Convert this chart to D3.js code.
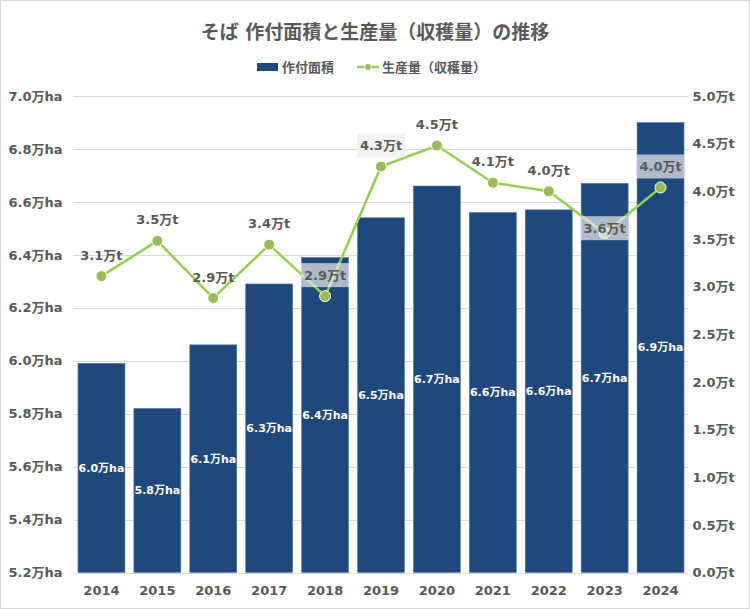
<!DOCTYPE html>
<html>
<head>
    <meta charset="utf-8" />
    <title>そば 作付面積と生産量（収穫量）の推移</title>
    <script src="https://d3js.org/d3.v7.min.js" charset="utf-8"></script>
    <style>
        body { margin: 0; background: #fff; }
        text { font-family: "DejaVu Sans", "Noto Sans CJK JP", sans-serif; }
    </style>
</head>
<body>
    <script>
        // Data (万ha / 万t)
        const years = ["2014", "2015", "2016", "2017", "2018", "2019", "2020", "2021", "2022", "2023", "2024"];
        const areaValues = [5.99, 5.82, 6.06, 6.29, 6.39, 6.54, 6.66, 6.56, 6.57, 6.67, 6.90];
        const productionValues = [3.11, 3.48, 2.88, 3.44, 2.90, 4.26, 4.48, 4.09, 4.00, 3.56, 4.04];
        const leftTicks = [5.2, 5.4, 5.6, 5.8, 6.0, 6.2, 6.4, 6.6, 6.8, 7.0];
        const rightTicks = [0.0, 0.5, 1.0, 1.5, 2.0, 2.5, 3.0, 3.5, 4.0, 4.5, 5.0];

        const width = 750;
        const height = 609;
        const margin = { top: 96, right: 61.5, bottom: 36.5, left: 73.5 };
        const textColor = "#595959";
        const barColor = "#1f497d";
        const lineColor = "#92d050";
        const markerColor = "#9bbb59";

        const svg = d3.select("body")
            .append("svg")
            .attr("width", width)
            .attr("height", height)
            .attr("viewBox", [0, 0, width, height]);

        // chart border
        svg.append("rect")
            .attr("x", 0.5).attr("y", 0.5)
            .attr("width", width - 1).attr("height", height - 1)
            .attr("fill", "#fff")
            .attr("stroke", "#d9d9d9");

        const x = d3.scaleBand()
            .domain(years)
            .range([margin.left, width - margin.right])
            .paddingInner(0.16)
            .paddingOuter(0.08);

        const yLeft = d3.scaleLinear()
            .domain([5.2, 7.0])
            .range([height - margin.bottom, margin.top]);

        const yRight = d3.scaleLinear()
            .domain([0, 5])
            .range([height - margin.bottom, margin.top]);

        // Title
        svg.append("text")
            .attr("x", width / 2)
            .attr("y", 32)
            .attr("dy", "0.35em")
            .attr("text-anchor", "middle")
            .attr("fill", textColor)
            .attr("font-weight", "bold")
            .attr("font-size", "19px")
            .text("そば 作付面積と生産量（収穫量）の推移");

        // Legend
        const legend = svg.append("g").attr("transform", "translate(0,67)");
        legend.append("rect")
            .attr("x", 257).attr("y", -4)
            .attr("width", 21).attr("height", 8)
            .attr("fill", barColor);
        legend.append("text")
            .attr("x", 282).attr("dy", "0.35em")
            .attr("fill", textColor)
            .attr("font-weight", "bold")
            .attr("font-size", "13px")
            .text("作付面積");
        legend.append("line")
            .attr("x1", 357).attr("x2", 379)
            .attr("stroke", lineColor)
            .attr("stroke-width", 2.5);
        legend.append("circle")
            .attr("cx", 368).attr("r", 3.5)
            .attr("fill", markerColor)
            .attr("stroke", "#fff");
        legend.append("text")
            .attr("x", 382).attr("dy", "0.35em")
            .attr("fill", textColor)
            .attr("font-weight", "bold")
            .attr("font-size", "13px")
            .text("生産量（収穫量）");

        // Gridlines
        svg.append("g")
            .selectAll("line")
            .data(leftTicks)
            .join("line")
            .attr("x1", margin.left)
            .attr("x2", width - margin.right)
            .attr("y1", d => Math.round(yLeft(d)) + 0.5)
            .attr("y2", d => Math.round(yLeft(d)) + 0.5)
            .attr("stroke", "#d9d9d9")
            .attr("stroke-width", 1);

        // Left axis
        const leftAxis = svg.append("g")
            .attr("transform", `translate(${margin.left - 11},0)`)
            .call(d3.axisLeft(yLeft).tickValues(leftTicks).tickSize(0).tickPadding(0)
                .tickFormat(d => d3.format(".1f")(d) + "万ha"));
        leftAxis.select(".domain").remove();
        leftAxis.selectAll("text")
            .attr("fill", textColor)
            .attr("font-weight", "bold")
            .attr("font-size", "13px");

        // Right axis
        const rightAxis = svg.append("g")
            .attr("transform", `translate(${width - margin.right + 4},0)`)
            .call(d3.axisRight(yRight).tickValues(rightTicks).tickSize(0).tickPadding(0)
                .tickFormat(d => d3.format(".1f")(d) + "万t"));
        rightAxis.select(".domain").remove();
        rightAxis.selectAll("text")
            .attr("fill", textColor)
            .attr("font-weight", "bold")
            .attr("font-size", "13px");

        // Bottom axis
        const bottomAxis = svg.append("g")
            .attr("transform", `translate(0,${height - margin.bottom + 12})`)
            .call(d3.axisBottom(x).tickSize(0).tickPadding(0));
        bottomAxis.select(".domain").remove();
        bottomAxis.selectAll("text")
            .attr("dy", "0.8em")
            .attr("fill", textColor)
            .attr("font-weight", "bold")
            .attr("font-size", "13px");

        const areaData = years.map((year, i) => ({ year, value: areaValues[i] }));
        const prodData = years.map((year, i) => ({ year, value: productionValues[i] }));

        // Bars
        svg.append("g")
            .selectAll("rect")
            .data(areaData)
            .join("rect")
            .attr("x", d => x(d.year))
            .attr("y", d => yLeft(d.value))
            .attr("width", x.bandwidth())
            .attr("height", d => yLeft(5.2) - yLeft(d.value))
            .attr("fill", barColor)
            .attr("stroke", "#5a7aa3")
            .attr("stroke-width", 0.6);

        // Bar labels (centre of bar)
        svg.append("g")
            .selectAll("text")
            .data(areaData)
            .join("text")
            .attr("x", d => x(d.year) + x.bandwidth() / 2)
            .attr("y", d => (yLeft(d.value) + yLeft(5.2)) / 2)
            .attr("dy", "0.35em")
            .attr("text-anchor", "middle")
            .attr("fill", "#fff")
            .attr("font-weight", "bold")
            .attr("font-size", "11px")
            .text(d => d3.format(".1f")(d.value) + "万ha");

        // Line
        const line = d3.line()
            .x(d => x(d.year) + x.bandwidth() / 2)
            .y(d => yRight(d.value));

        svg.append("path")
            .datum(prodData)
            .attr("d", line)
            .attr("fill", "none")
            .attr("stroke", lineColor)
            .attr("stroke-width", 2.5)
            .attr("stroke-linejoin", "round");

        svg.append("g")
            .selectAll("circle")
            .data(prodData)
            .join("circle")
            .attr("cx", d => x(d.year) + x.bandwidth() / 2)
            .attr("cy", d => yRight(d.value))
            .attr("r", 5.5)
            .attr("fill", markerColor)
            .attr("stroke", "#fff")
            .attr("stroke-width", 1);

        // Line labels; some carry a translucent box, 2023 sits near its point
        const boxed = new Set(["2018", "2019", "2023", "2024"]);
        const labelG = svg.append("g")
            .selectAll("g")
            .data(prodData)
            .join("g")
            .attr("transform", d => {
                const off = d.year === "2023" ? -5 : -21;
                return `translate(${x(d.year) + x.bandwidth() / 2},${yRight(d.value) + off})`;
            });

        labelG.filter(d => boxed.has(d.year))
            .append("rect")
            .attr("x", -24).attr("y", -12)
            .attr("width", 48).attr("height", 24)
            .attr("fill", "#ececec")
            .attr("fill-opacity", 0.7);

        labelG.append("text")
            .attr("text-anchor", "middle")
            .attr("dy", "0.35em")
            .attr("fill", textColor)
            .attr("font-weight", "bold")
            .attr("font-size", "13px")
            .text(d => d3.format(".1f")(d.value) + "万t");
    </script>
</body>
</html>
